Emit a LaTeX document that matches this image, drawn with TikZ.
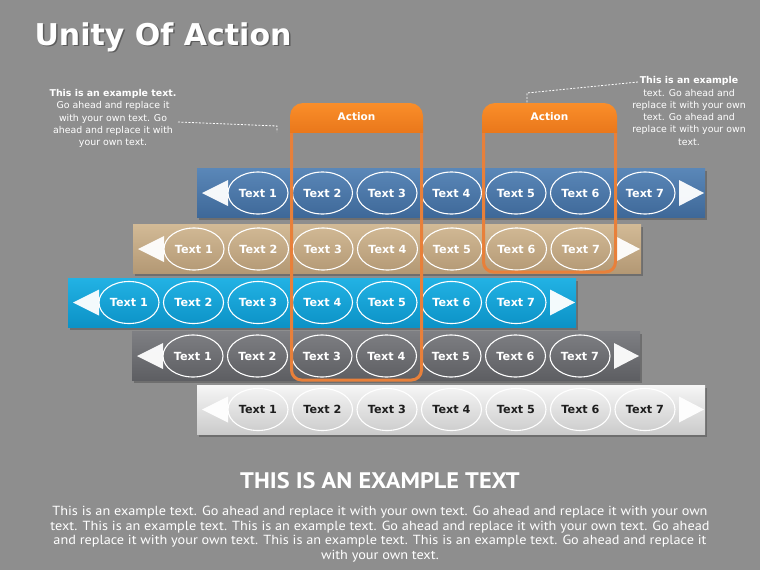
\documentclass[tikz,border=0pt]{standalone}
\usepackage{fontspec}
\setmainfont{DejaVu Sans}
\newfontfamily\ptsans[FakeStretch=1.08]{PT Sans}
\usetikzlibrary{shapes.geometric}
\definecolor{bg}{HTML}{8E8E8E}
\definecolor{bluetop}{HTML}{5A87B8}
\definecolor{bluebot}{HTML}{3E6898}
\definecolor{tantop}{HTML}{D2BA96}
\definecolor{tanbot}{HTML}{B39874}
\definecolor{cyantop}{HTML}{22B2E4}
\definecolor{cyanbot}{HTML}{0C92C6}
\definecolor{graytop}{HTML}{7E7F83}
\definecolor{graybot}{HTML}{5D5E62}
\definecolor{whitetop}{HTML}{F6F6F6}
\definecolor{whitebot}{HTML}{CBCBCB}
\definecolor{dark}{HTML}{1E1E1E}
\definecolor{ortop}{HTML}{FA8E2A}
\definecolor{orbot}{HTML}{E06A12}
\definecolor{orline}{HTML}{E8803A}
\tikzset{
  rowbar/.style={rectangle, minimum width=508pt, minimum height=49pt, inner sep=0pt},
  rowshadow/.style={rectangle, fill=black, opacity=0.22, minimum width=508pt, minimum height=49pt, inner sep=0pt},
  oval/.style={ellipse, draw=white, line width=1.1pt, minimum width=60pt, minimum height=42pt, inner sep=0pt, font=\bfseries\fontsize{11.2}{14}\selectfont},
  orframe/.style={draw=orline, line width=3pt, rounded corners=10pt},
  acttext/.style={text=white, font=\bfseries\fontsize{10.5}{12}\selectfont},
  note/.style={text=white, align=center, font=\fontsize{9.4}{12.3}\selectfont},
  callout/.style={draw=white, line width=0.8pt, dash pattern=on 2pt off 1.5pt},
}
\begin{document}
\begin{tikzpicture}[x=1pt,y=-1pt]
\useasboundingbox (0,0) rectangle (760,570);
\fill[bg] (0,0) rectangle (760,570);

% title
\node[anchor=base west, text=black, opacity=0.35, font=\bfseries\fontsize{30}{36}\selectfont] (titleshadow) at (32.5,46.5) {Unity Of Action};
\node[anchor=base west, text=white, font=\bfseries\fontsize{30}{36}\selectfont] (title) at (31,45) {Unity Of Action};

% rows
\foreach \r/\L/\cy/\tc/\bc/\txt in {1/197/193/bluetop/bluebot/white,
                                     2/133/249/tantop/tanbot/white,
                                     3/68/302.5/cyantop/cyanbot/white,
                                     4/132/356/graytop/graybot/white,
                                     5/197/409.5/whitetop/whitebot/dark} {
  \node[rowshadow] (sh\r) at (\L+256,\cy+2.5) {};
  \node[rowbar, top color=\tc, bottom color=\bc] (row\r) at (\L+254,\cy) {};
  \fill[white, opacity=0.95] (\L+5,\cy) -- (\L+31,\cy-13) -- (\L+31,\cy+13) -- cycle;
  \fill[white, opacity=0.95] (\L+507,\cy) -- (\L+482,\cy-13) -- (\L+482,\cy+13) -- cycle;
  \foreach \i in {1,...,7} {
    \node[oval, text=\txt] (r\r e\i) at ({\L+61+(\i-1)*64.5},\cy) {Text \i};
  }
}

% action frames
\draw[orframe] (291.5,128) -- (291.5,380) -- (421.5,380) -- (421.5,128);
\draw[orframe] (483.5,128) -- (483.5,272) -- (615.5,272) -- (615.5,128);
\begin{scope}
  \clip (280,95) rectangle (430,132);
  \shade[top color=ortop, bottom color=orbot, rounded corners=13pt] (290,103) rectangle (423,150);
\end{scope}
\begin{scope}
  \clip (470,95) rectangle (630,132);
  \shade[top color=ortop, bottom color=orbot, rounded corners=13pt] (482,103) rectangle (617,150);
\end{scope}
\node[acttext] (act1) at (356.5,117) {Action};
\node[acttext] (act2) at (549.5,117) {Action};

% callouts
\node[note] (lnote) at (113,118.5) {\textbf{This is an example text.}\\Go ahead and replace it\\with your own text. Go\\ahead and replace it with\\your own text.};
\node[note] (rnote) at (689,111) {\textbf{This is an example}\\text. Go ahead and\\replace it with your own\\text. Go ahead and\\replace it with your own\\text.};
\coordinate (la) at (178,122);
\coordinate (lb) at (277,126);
\coordinate (lc) at (277,132);
\draw[callout] (la) -- (lb) -- (lc);
\coordinate (ra) at (638,82);
\coordinate (rb) at (527,93);
\coordinate (rc) at (527,103);
\draw[callout] (ra) -- (rb) -- (rc);

% bottom text
\node[text=white, font=\ptsans\bfseries\fontsize{22.5}{26}\selectfont] (head) at (380,481) {THIS IS AN EXAMPLE TEXT};
\node[text=white, align=center, font=\ptsans\fontsize{13.2}{14.6}\selectfont] (body) at (380,534) {This is an example text. Go ahead and replace it with your own text. Go ahead and replace it with your own\\text. This is an example text. This is an example text. Go ahead and replace it with your own text. Go ahead\\and replace it with your own text. This is an example text. This is an example text. Go ahead and replace it\\with your own text.};
\end{tikzpicture}
\end{document}
